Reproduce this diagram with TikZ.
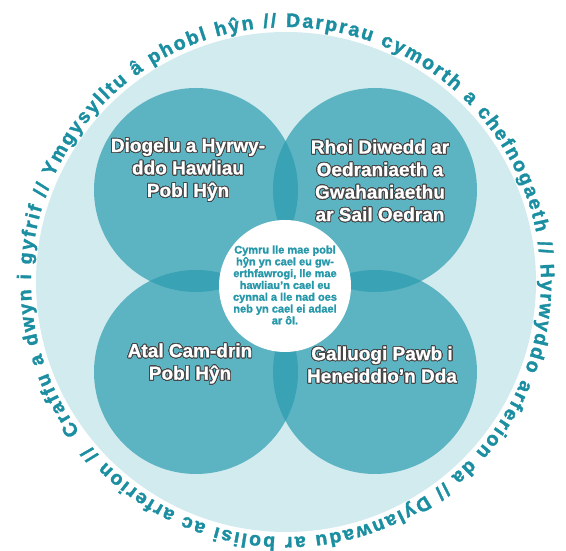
\documentclass[tikz,border=0pt]{standalone}
\usepackage{fontspec}
\setmainfont{Liberation Sans}
\newfontface\boldface[FakeBold=0.8]{Liberation Sans Bold}
\newfontface\heavyface[FakeBold=1.6]{Liberation Sans Bold}
\usepackage{contour}
\contourlength{0.85pt}
\contournumber{32}
\usetikzlibrary{decorations.text,calc}
\definecolor{ringbg}{RGB}{210,235,239}
\definecolor{petal}{RGB}{44,157,176}
\definecolor{ringtxt}{RGB}{27,143,161}
\definecolor{ctrtxt}{RGB}{38,152,170}
\definecolor{outl}{RGB}{70,70,70}
\newcommand{\olt}[1]{\contour{outl}{#1}}
\newcommand{\ringfont}{\heavyface\fontsize{19.5}{20}\selectfont}
\tikzset{
  petalc/.style={fill=petal, fill opacity=0.71, draw=none},
  petaltext/.style={align=center, text=white, font=\boldface\fontsize{19}{22.5}\selectfont},
  ctrtext/.style={align=center, text=ctrtxt, font=\heavyface\fontsize{11}{11.8}\selectfont}
}
\begin{document}
\begin{tikzpicture}[x=1pt,y=1pt]
\useasboundingbox[fill=white] (0,0) rectangle (566,551);
\coordinate (C) at (286,269);
\fill[ringbg] (C) circle (250pt);
\fill[petalc] (196,361) circle (102pt);
\fill[petalc] (375,361) circle (102pt);
\fill[petalc] (196,179) circle (102pt);
\fill[petalc] (375,179) circle (102pt);
\fill[white] (285,265) circle (66pt);
\node[petaltext] (tl) at (188,381) {\olt{Diogelu a Hyrwy-}\\\olt{ddo Hawliau}\\\olt{Pobl Hŷn}};
\node[petaltext] (tr) at (380,370) {\olt{Rhoi Diwedd ar}\\\olt{Oedraniaeth a}\\\olt{Gwahaniaethu}\\\olt{ar Sail Oedran}};
\node[petaltext] (bl) at (190,187) {\olt{Atal Cam-drin}\\\olt{Pobl Hŷn}};
\node[petaltext] (br) at (382,186) {\olt{Galluogi Pawb i}\\\olt{Heneiddio’n Dda}};
\node[ctrtext] (ctr) at (285,266) {Cymru lle mae pobl\\hŷn yn cael eu gw-\\erthfawrogi, lle mae\\hawliau’n cael eu\\cynnal a lle nad oes\\neb yn cael ei adael\\ar ôl.};
{\ringfont
\path[decorate, decoration={text along path, text color=ringtxt, text align=fit to path,
  text={|\ringfont|Craffu a dwyn i gyfrif // Ymgysylltu â phobl hŷn // Darprau cymorth a chefnogaeth // Hyrwyddo arferion da // Dylanwadu ar bolisi ac arferion //}}]
  ($(C)+(216:255pt)$) arc[start angle=216, end angle=-140, radius=255pt];
}
\end{tikzpicture}
\end{document}
